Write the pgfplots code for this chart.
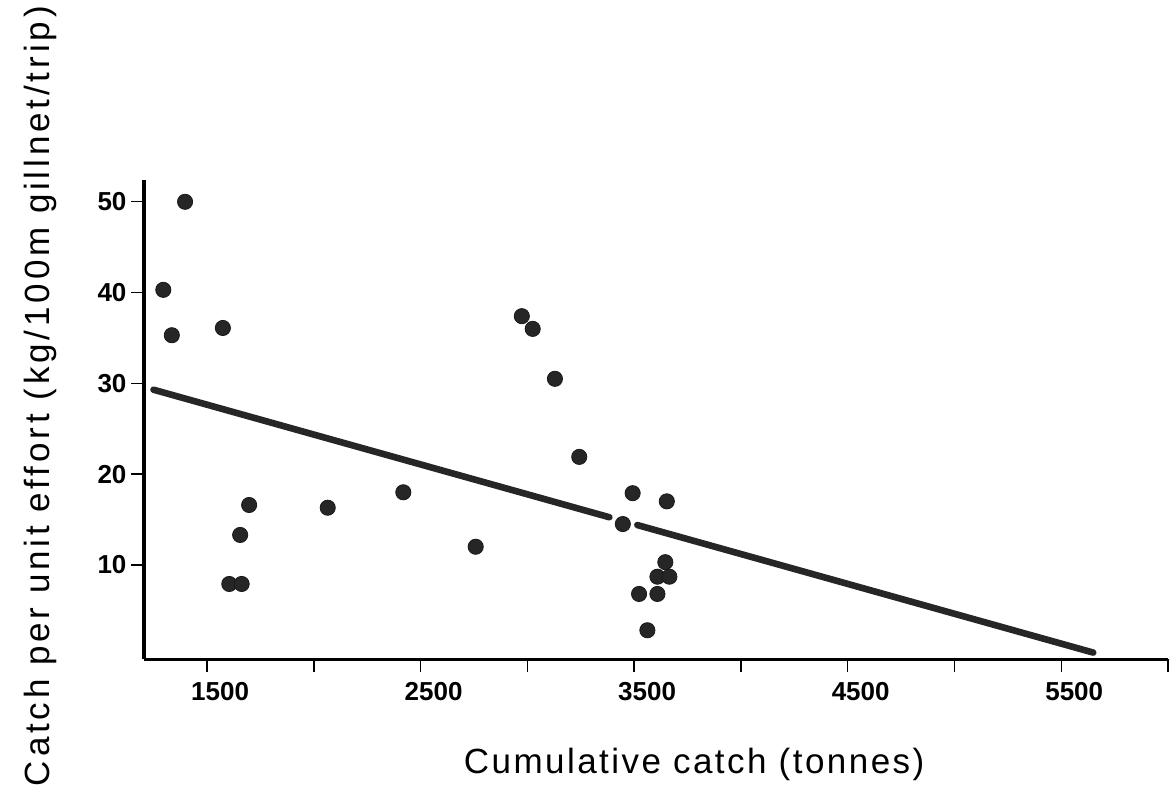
\documentclass[border=0pt]{standalone}
\usepackage{fontspec}
\setmainfont{Liberation Sans}
\newfontfamily\xlabfont[LetterSpace=7]{Liberation Sans}
\newfontfamily\ylabfont[LetterSpace=11]{Liberation Sans}
\usepackage{pgfplots}
\pgfplotsset{compat=1.18}
\begin{document}
\begin{tikzpicture}
\begin{axis}[name=ax,
  scale only axis, width=511.75pt, height=239.65pt,
  xmin=1207, xmax=6000, ymin=-0.4, ymax=52.4,
  axis x line*=bottom, axis y line*=left,
  x axis line style={line width=1.5pt, -},
  y axis line style={line width=2pt, -},
  xtick={1500,2000,...,6000},
  xticklabels={1500,,2500,,3500,,4500,,5500,},
  ytick={10,20,30,40,50},
  yticklabels={10,20,30,40,50},
  tick align=outside, major tick length=6.5pt,
  tick style={line width=0.7pt, black},
  ticklabel style={font=\bfseries\fontsize{13}{14}\selectfont},
  xticklabel style={xshift=6.5pt, yshift=-1.5pt},
  yticklabel style={xshift=1pt},
  xlabel={Cumulative catch (tonnes)},
  ylabel={Catch per unit effort (kg/100m gillnet/trip)},
  every axis x label/.style={at={(axis description cs:0.537,0)}, yshift=-56.85pt, anchor=base, font=\xlabfont\fontsize{17.5}{20}\selectfont},
  every axis y label/.style={at={(axis description cs:0,0.549)}, xshift=-47.25pt, rotate=90, anchor=base, font=\ylabfont\fontsize{17.5}{20}\selectfont},
  clip=false,
]
\addplot[only marks, mark=*, mark size=3.8pt, mark options={fill=black!85, draw=black!90}] coordinates {
 (1397,50.0) (1295,40.3) (1335,35.3) (1574,36.1) (1697,16.6) (1655,13.3)
 (1604,7.9) (1662,7.9) (2065,16.3) (2419,18.0) (2758,12.0) (2974,37.4)
 (3025,36.0) (3129,30.5) (3243,21.9) (3493,17.9) (3653,17.0) (3447,14.5)
 (3646,10.3) (3609,8.7) (3665,8.7) (3523,6.8) (3609,6.8) (3562,2.8)
};
\addplot[line width=3.3pt, black!85, line cap=round] coordinates {(1249,29.3) (3384,15.25)};
\addplot[line width=3.3pt, black!85, line cap=round] coordinates {(3515,14.39) (5650,0.34)};
\end{axis}
\pgfresetboundingbox
\path[use as bounding box] ([xshift=-72.25pt,yshift=-65.85pt]ax.south west) rectangle ([xshift=0.5pt,yshift=90pt]ax.north east);
\end{tikzpicture}
\end{document}
